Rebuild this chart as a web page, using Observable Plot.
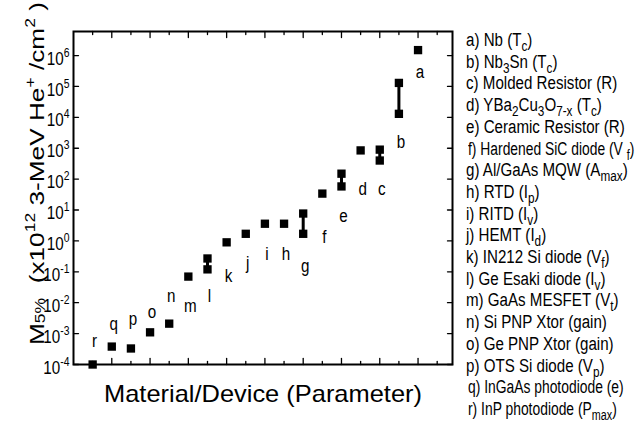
<!DOCTYPE html>
<html><head><meta charset="utf-8">
<script src="https://cdn.jsdelivr.net/npm/d3@7"></script>
<script src="https://cdn.jsdelivr.net/npm/@observablehq/plot@0.6"></script>
<style>
body{margin:0;background:#fff;}
#wrap{position:relative;width:639px;height:426px;overflow:hidden;background:#fff;}
#wrap svg{position:absolute;left:0;top:0;}
#legend{position:absolute;left:0;top:0;z-index:2;font-family:"Liberation Sans",Arial,sans-serif;font-size:18px;color:#000;}
#legend div{position:absolute;left:466px;white-space:nowrap;line-height:18px;transform:scaleX(0.84);transform-origin:0 50%;}
#legend div.cond{transform:scaleX(0.77);left:468px;}
#legend sub{font-size:14px;vertical-align:-5px;line-height:0;}
</style></head><body><div id="wrap"><div id="legend"></div></div>
<script>
// Materials / devices, left to right (position 1..18)
const letters   = ["r","q","p","o","n","m","l","k","j","i","h","g","f","e","d","c","b","a"];
const positions = [1,2,3,4,5,6,7,8,9,10,11,12,13,14,15,16,17,18];
// M5% values (x10^12 3-MeV He+/cm^2); low value and, where a range is shown, the high value
const valueLow  = [1e-4,3.8e-4,3.3e-4,1.1e-3,2.1e-3,0.07,0.12,0.9,1.7,3.6,3.6,1.7,34,58,850,400,1.3e4,1.5e6];
const valueHigh = [null,null,null,null,null,null,0.27,null,null,null,null,7.7,null,150,null,900,1.3e5,null];
// where each letter label sits (data units)
const labelValue = [6e-4,2.1e-3,2.9e-3,5.2e-3,0.017,0.0076,0.016,0.071,0.2,0.39,0.39,0.16,1.3,6.6,50,50,1660,3e5];
// axis ticks
const yExponents = [-4,-3,-2,-1,0,1,2,3,4,5,6];
const xMajorTicks = [2,4,6,8,10,12,14,16,18];
const xMinorTicks = [1,3,5,7,9,11,13,15,17,19];
// legend
const legendLetters = ["a","b","c","d","e","f","g","h","i","j","k","l","m","n","o","p","q","r"];
const legendLabels = [
  "Nb (T<sub>c</sub>)",
  "Nb<sub>3</sub>Sn (T<sub>c</sub>)",
  "Molded Resistor (R)",
  "YBa<sub>2</sub>Cu<sub>3</sub>O<sub>7-x</sub> (T<sub>c</sub>)",
  "Ceramic Resistor (R)",
  "Hardened SiC diode (V <sub>f</sub>)",
  "Al/GaAs MQW (A<sub>max</sub>)",
  "RTD (I<sub>p</sub>)",
  "RITD (I<sub>v</sub>)",
  "HEMT (I<sub>d</sub>)",
  "IN212 Si diode (V<sub>f</sub>)",
  "Ge Esaki diode (I<sub>v</sub>)",
  "GaAs MESFET (V<sub>t</sub>)",
  "Si PNP Xtor (gain)",
  "Ge PNP Xtor (gain)",
  "OTS Si diode (V<sub>p</sub>)",
  "InGaAs photodiode (e)",
  "InP photodiode (P<sub>max</sub>)"
];
const condensedEntries = ["f","q","r"];
const xTitle = "Material/Device (Parameter)";

const points = positions.map((p,i)=>({pos:p, v:valueLow[i]}))
  .concat(positions.map((p,i)=>({pos:p, v:valueHigh[i]})).filter(d=>d.v!=null));
const ranges = positions.map((p,i)=>({pos:p, low:valueLow[i], high:valueHigh[i]})).filter(d=>d.high!=null);
const labels = positions.map((p,i)=>({pos:p, y:labelValue[i], t:letters[i]}));

const tickShape = {draw(context, l){ context.moveTo(0,0); context.lineTo(0,-l); }};
const sans = "Liberation Sans, Arial, sans-serif";

const svg = Plot.plot({
  width:639, height:426,
  marginLeft:73, marginTop:31, marginRight:187, marginBottom:62,
  x:{domain:[0,19.8], axis:null},
  y:{type:"log", domain:[1e-4, 6e6], axis:null},
  style:{fontFamily:sans, fontSize:"18px", color:"black", background:"white", overflow:"visible"},
  marks:[
    Plot.ruleX(ranges, {x:"pos", y1:"low", y2:"high", strokeWidth:3, stroke:"black"}),
    Plot.dot(points, {x:"pos", y:"v", symbol:"square", r:4.7, fill:"black", stroke:null}),
    Plot.text(labels, {x:"pos", y:"y", text:"t", dx:2, fill:"black", fontSize:19, className:"cond"}),
    Plot.vector(xMajorTicks, {x:d=>d, frameAnchor:"bottom", rotate:0, length:6, anchor:"start", shape:tickShape, strokeWidth:1.3}),
    Plot.vector(xMinorTicks, {x:d=>d, frameAnchor:"bottom", rotate:0, length:3, anchor:"start", shape:tickShape, strokeWidth:1.3}),
    Plot.vector(xMajorTicks, {x:d=>d, frameAnchor:"top", rotate:180, length:6, anchor:"start", shape:tickShape, strokeWidth:1.3}),
    Plot.vector(xMinorTicks, {x:d=>d, frameAnchor:"top", rotate:180, length:3, anchor:"start", shape:tickShape, strokeWidth:1.3}),
    Plot.vector(yExponents, {y:d=>10**d, frameAnchor:"left", rotate:90, length:5, anchor:"start", shape:tickShape, strokeWidth:1.3}),
    Plot.vector(yExponents, {y:d=>10**d, frameAnchor:"right", rotate:-90, length:5, anchor:"start", shape:tickShape, strokeWidth:1.3}),
    Plot.frame({stroke:"black", strokeWidth:2}),
    Plot.text(yExponents, {y:d=>10**d, frameAnchor:"left", text:d=>String(d), textAnchor:"end", dx:-4, dy:3, fontSize:19, className:"ylab"}),
    Plot.text([xTitle], {frameAnchor:"bottom", text:d=>d, dy:37, fontSize:24, className:"xtitle"})
  ]
});
const wrap = document.getElementById("wrap");
wrap.insertBefore(svg, wrap.firstChild);

function scaleTexts(sel, sx){
  d3.select(svg).selectAll(sel).each(function(){
    const t = this.getAttribute("transform");
    if (t) this.setAttribute("transform", t + ` scale(${sx},1)`);
    else {
      const x = +this.getAttribute("x") || 0, y = +this.getAttribute("y") || 0;
      this.setAttribute("transform", `translate(${x},${y}) scale(${sx},1) translate(${-x},${-y})`);
    }
  });
}

// superscript exponent tick labels: 10^n
d3.select(svg).selectAll(".ylab text").each(function(){
  const e = this.textContent;
  const t = d3.select(this); t.text("");
  t.append("tspan").text("10");
  t.append("tspan").attr("dy","-8").attr("font-size","13").text(e);
});
scaleTexts(".ylab text", 0.8);
scaleTexts(".cond text", 0.8);
scaleTexts(".xtitle text", 1.06);

// rotated y-axis title
const title = d3.select(svg).append("text")
  .attr("font-family",sans).attr("font-size",21).attr("fill","black")
  .attr("text-anchor","start").attr("xml:space","preserve")
  .attr("transform","translate(44,345) rotate(-90)");
title.append("tspan").text("M");
title.append("tspan").attr("font-size",14).attr("dy",1).text("5%");
title.append("tspan").attr("dy",-1).text("\u00a0\u00a0(x10");
title.append("tspan").attr("font-size",14).attr("dy",-9).text("12");
title.append("tspan").attr("dy",9).text(" 3-MeV He");
title.append("tspan").attr("font-size",14).attr("dy",-9).text("+");
title.append("tspan").attr("dy",9).text(" /cm");
title.append("tspan").attr("font-size",14).attr("dy",-9).text("2");
title.append("tspan").attr("dy",9).text(" )");
const len = title.node().getComputedTextLength();
title.attr("transform",`translate(44,345) rotate(-90) scale(${343/len},1)`);

// legend
const legend = d3.select("#legend");
legendLetters.forEach((L,i)=>{
  legend.append("div").attr("class", condensedEntries.includes(L) ? "cond" : null)
    .style("top",(31 + i*21.7)+"px").html(L+") "+legendLabels[i]);
});
</script></body></html>
